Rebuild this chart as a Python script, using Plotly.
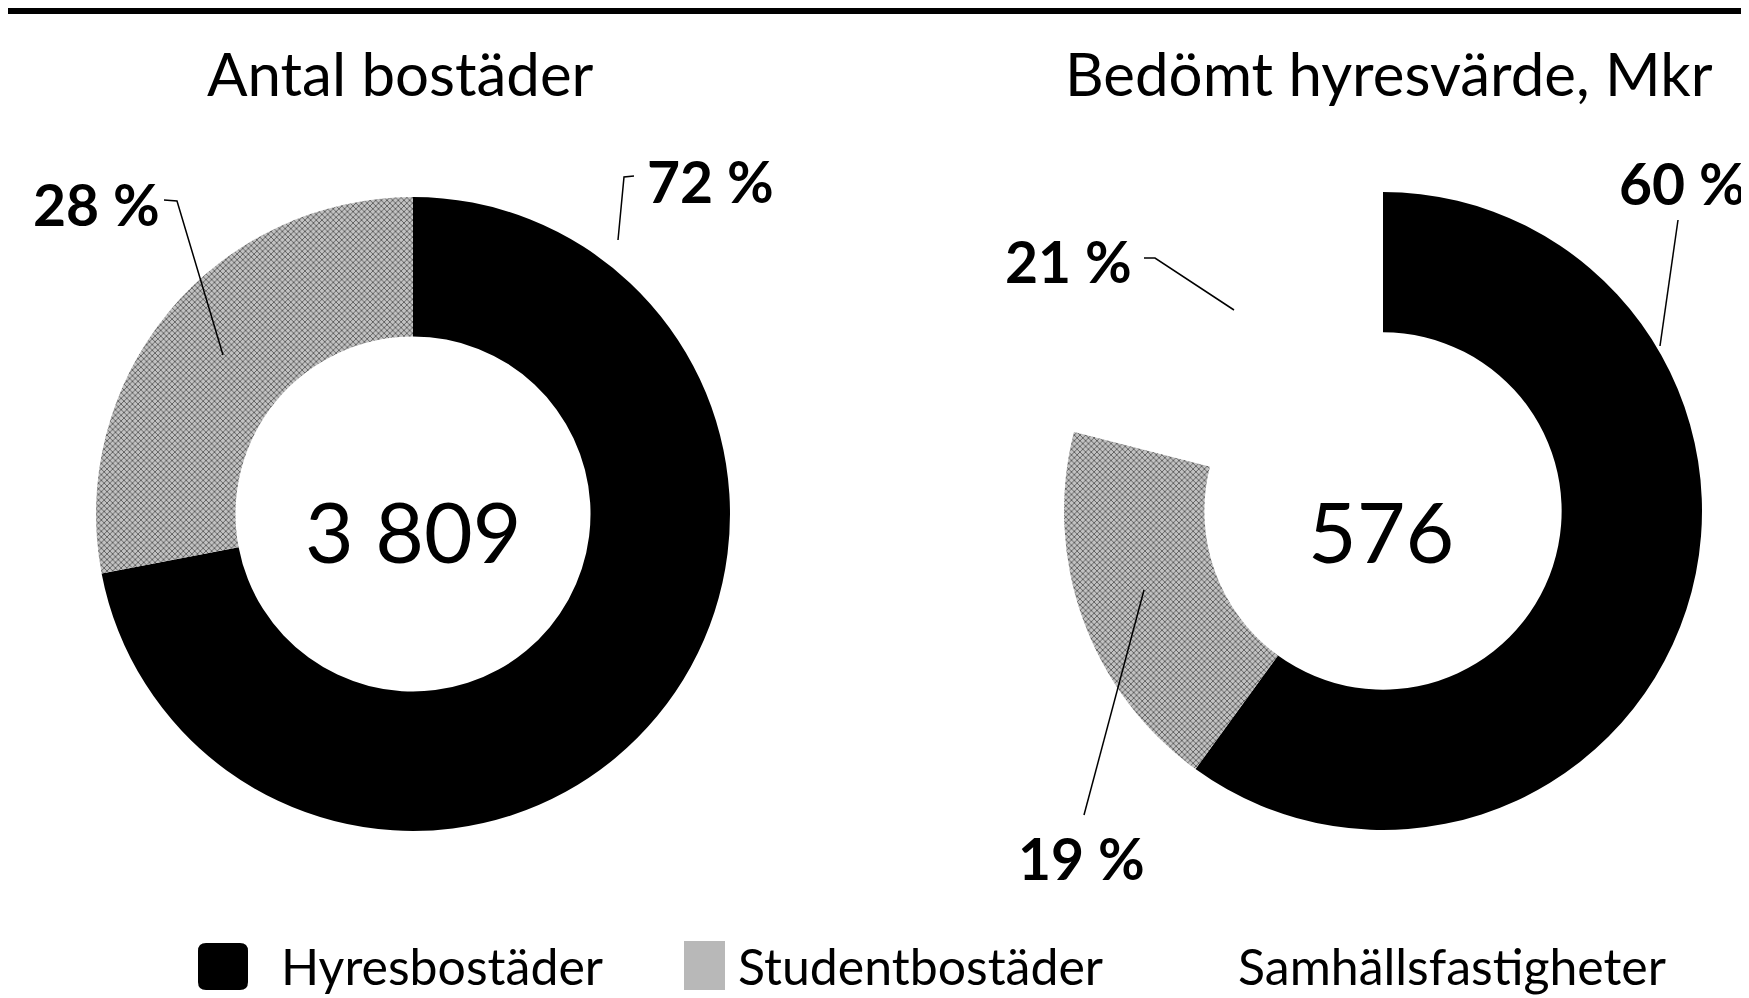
import plotly.graph_objects as go

W, H = 1749, 998
OFF = 8  # the page body adds an 8px margin, so pull everything back up-left

# data
labels_left = ["Hyresbostäder", "Studentbostäder"]
values_left = [72, 28]
labels_right = ["Hyresbostäder", "Studentbostäder", "Samhällsfastigheter"]
values_right = [60, 19, 21]
total_left = "3 809"
total_right = "576"
titles = ["Antal bostäder", "Bedömt hyresvärde, Mkr"]
legend_labels = ["Hyresbostäder", "Studentbostäder", "Samhällsfastigheter"]

colors = {"Hyresbostäder": "#000000", "Studentbostäder": "#a8a8a8",
          "Samhällsfastigheter": "#ffffff"}
patterns = {"Hyresbostäder": "", "Studentbostäder": "x", "Samhällsfastigheter": ""}
FONT = "Lato"


def px(x, y):
    # page pixel position -> paper coords
    return (x - OFF) / W, 1 - (y - OFF) / H


def domain(cx, cy, r):
    x0, y0 = px(cx - r, cy + r)
    x1, y1 = px(cx + r, cy - r)
    return dict(x=[x0, x1], y=[y0, y1])


def pie(labels, values, dom):
    return go.Pie(labels=labels, values=values, domain=dom, hole=0.56,
                  sort=False, direction="clockwise", rotation=0,
                  textinfo="none", hoverinfo="label+percent", showlegend=False,
                  marker=dict(colors=[colors[l] for l in labels],
                              line=dict(width=0),
                              pattern=dict(shape=[patterns[l] for l in labels],
                                           fgcolor="#4a4a4a", bgcolor="#c2c2c2",
                                           size=4, solidity=0.35)))


fig = go.Figure()
fig.add_trace(pie(labels_left, values_left, domain(413, 514, 317)))
fig.add_trace(pie(labels_right, values_right, domain(1383, 511, 319)))

ann = []
shapes = []


def text(x, y, s, size, bold=False, xanchor="center"):
    xx, yy = px(x, y)
    ann.append(dict(x=xx, y=yy, xref="paper", yref="paper", text=f"<b>{s}</b>" if bold else s,
                    showarrow=False, xanchor=xanchor, yanchor="middle",
                    font=dict(family=FONT, size=size, color="black")))


def leader(points):
    path = "M " + " L ".join(f"{px(x, y)[0]},{px(x, y)[1]}" for x, y in points)
    shapes.append(dict(type="path", xref="paper", yref="paper", path=path,
                       line=dict(color="black", width=1.5)))


# titles and center totals
text(400, 73, titles[0], 60)
text(1389, 73, titles[1], 60)
text(413, 530, total_left, 84)
text(1381, 530, total_right, 84)

# percent labels
text(96, 204, f"{values_left[1]} %", 57, bold=True)
text(710, 181, f"{values_left[0]} %", 57, bold=True)
text(1068, 261, f"{values_right[2]} %", 57, bold=True)
text(1682, 183, f"{values_right[0]} %", 57, bold=True)
text(1081, 858, f"{values_right[1]} %", 57, bold=True)

leader([(164, 200), (177, 201), (223, 355)])
leader([(634, 176), (624, 177), (618, 240)])
leader([(1144, 258), (1155, 258), (1234, 310)])
leader([(1678, 220), (1660, 346)])
leader([(1144, 590), (1084, 815)])

# legend drawn by hand (plotly pie legend symbols are tiny)
x0, y0 = px(198, 990)
x1, y1 = px(248, 943)
r = 8 / W
ry = 8 / H
shapes.append(dict(type="path", xref="paper", yref="paper",
                   path=(f"M {x0 + r},{y0} L {x1 - r},{y0} Q {x1},{y0} {x1},{y0 + ry} "
                         f"L {x1},{y1 - ry} Q {x1},{y1} {x1 - r},{y1} L {x0 + r},{y1} "
                         f"Q {x0},{y1} {x0},{y1 - ry} L {x0},{y0 + ry} Q {x0},{y0} {x0 + r},{y0} Z"),
                   fillcolor="black", line=dict(width=0)))
x0, y0 = px(684, 990)
x1, y1 = px(725, 941)
shapes.append(dict(type="rect", xref="paper", yref="paper", x0=x0, y0=y0, x1=x1, y1=y1,
                   fillcolor="#b8b8b8", line=dict(width=0)))
text(279, 966, legend_labels[0], 50, xanchor="left")
text(736, 966, legend_labels[1], 50, xanchor="left")
text(1236, 966, legend_labels[2], 50, xanchor="left")

# top rule
x0, y0 = px(0, 14)
x1, y1 = px(W + OFF, OFF)
shapes.append(dict(type="rect", xref="paper", yref="paper", x0=x0, y0=y0, x1=x1, y1=y1,
                   fillcolor="black", line=dict(width=0)))

fig.update_layout(width=W, height=H, margin=dict(l=0, r=0, t=0, b=0),
                  paper_bgcolor="white", plot_bgcolor="white",
                  annotations=ann, shapes=shapes)

fig.write_html("out.html")
